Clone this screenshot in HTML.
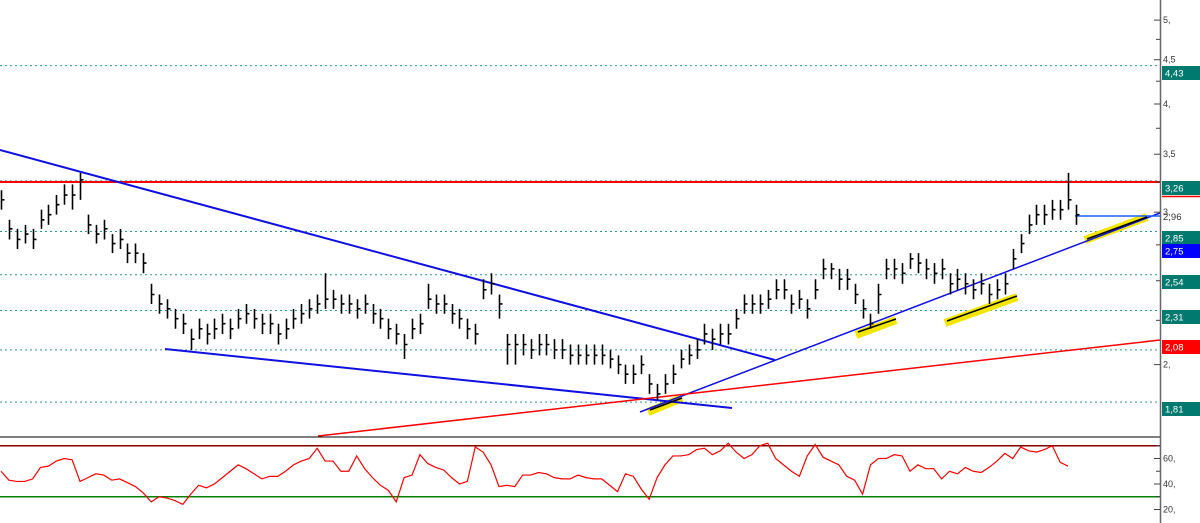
<!DOCTYPE html>
<html><head><meta charset="utf-8"><style>
body{margin:0;background:#fff;}
svg{display:block;font-family:"Liberation Sans",sans-serif;}
</style></head><body>
<svg id="chart" width="1200" height="523" viewBox="0 0 1200 523" xmlns="http://www.w3.org/2000/svg">
<g id="grid"></g>
<g id="draw"></g>
<g id="bars"></g>
<g id="rsi"></g>
<g id="axis"></g>
</svg>
<script>
const highs=[3.18,2.94,2.87,2.90,2.87,3.02,3.06,3.14,3.23,3.23,3.33,2.98,2.90,2.94,2.83,2.87,2.76,2.76,2.69,2.48,2.41,2.38,2.32,2.29,2.20,2.26,2.23,2.26,2.29,2.26,2.32,2.35,2.32,2.29,2.29,2.23,2.26,2.32,2.35,2.38,2.41,2.55,2.44,2.41,2.41,2.38,2.41,2.35,2.32,2.26,2.23,2.17,2.26,2.29,2.48,2.41,2.41,2.35,2.32,2.26,2.23,2.51,2.55,2.41,2.17,2.17,2.17,2.14,2.17,2.17,2.14,2.14,2.11,2.11,2.11,2.11,2.11,2.08,2.05,2.00,2.00,2.05,1.95,1.90,1.95,2.00,2.08,2.11,2.14,2.23,2.20,2.23,2.23,2.32,2.41,2.41,2.41,2.44,2.51,2.51,2.41,2.44,2.38,2.51,2.65,2.62,2.58,2.58,2.48,2.38,2.29,2.48,2.65,2.65,2.62,2.69,2.69,2.65,2.62,2.65,2.55,2.58,2.55,2.51,2.55,2.48,2.51,2.55,2.72,2.83,2.98,3.06,3.06,3.10,3.10,3.33,3.06];
const lows=[3.02,2.79,2.72,2.76,2.72,2.87,2.90,2.98,3.06,3.02,3.10,2.83,2.76,2.79,2.69,2.72,2.62,2.62,2.55,2.35,2.29,2.26,2.20,2.17,2.08,2.14,2.11,2.14,2.17,2.14,2.20,2.23,2.20,2.17,2.17,2.11,2.14,2.20,2.23,2.26,2.29,2.32,2.32,2.29,2.29,2.26,2.29,2.23,2.20,2.14,2.11,2.03,2.14,2.17,2.32,2.29,2.29,2.23,2.20,2.14,2.11,2.38,2.41,2.26,2.00,2.00,2.05,2.03,2.05,2.05,2.03,2.03,2.00,2.00,2.00,2.00,2.00,1.98,1.95,1.90,1.90,1.95,1.85,1.82,1.85,1.90,1.98,2.00,2.03,2.11,2.08,2.11,2.11,2.20,2.29,2.29,2.29,2.32,2.38,2.38,2.29,2.32,2.26,2.38,2.51,2.51,2.44,2.44,2.35,2.26,2.20,2.29,2.51,2.51,2.48,2.58,2.55,2.51,2.48,2.51,2.41,2.44,2.41,2.38,2.41,2.35,2.38,2.41,2.58,2.69,2.83,2.90,2.90,2.94,2.94,3.02,2.90];
const closes=[3.10,2.87,2.79,2.83,2.79,2.94,2.98,3.06,3.14,3.14,3.27,2.90,2.83,2.87,2.76,2.79,2.69,2.69,2.62,2.41,2.35,2.32,2.26,2.23,2.14,2.20,2.17,2.20,2.23,2.20,2.26,2.29,2.26,2.23,2.23,2.17,2.20,2.26,2.29,2.32,2.35,2.38,2.38,2.35,2.35,2.32,2.35,2.29,2.26,2.20,2.17,2.11,2.20,2.23,2.38,2.35,2.35,2.29,2.26,2.20,2.17,2.44,2.48,2.35,2.11,2.11,2.11,2.08,2.11,2.11,2.08,2.08,2.05,2.05,2.05,2.05,2.05,2.03,2.00,1.95,1.95,2.00,1.90,1.85,1.90,1.95,2.03,2.05,2.08,2.17,2.14,2.17,2.17,2.26,2.35,2.35,2.35,2.38,2.44,2.44,2.35,2.38,2.32,2.44,2.58,2.58,2.51,2.51,2.41,2.32,2.23,2.41,2.58,2.58,2.55,2.65,2.62,2.58,2.55,2.58,2.48,2.51,2.48,2.44,2.48,2.41,2.44,2.48,2.65,2.76,2.90,2.98,2.98,3.02,3.02,3.10,2.98];
const rsiValues=[50,43,42,42,44,53,54,58,60,59,42,45,48,47,43,44,41,38,33,26,30,29,27,24,32,39,37,40,45,50,55,52,48,44,46,46,50,55,58,60,68,58,58,50,50,62,52,45,39,35,26,45,47,63,56,53,51,45,40,42,69,65,55,38,39,38,47,47,49,48,45,44,44,47,45,44,44,39,34,48,46,36,28,45,55,62,62,63,67,68,63,66,72,65,60,63,70,72,60,55,50,46,62,71,61,58,55,46,43,32,55,60,60,63,62,50,55,52,52,44,50,48,53,50,49,53,58,64,60,69,66,65,67,70,57,54];
const axisTicks=[5,4.5,4,3.5,3,2];
const axisTickLabels=["5,","4,5","4,","3,5","3,","2,"];
const levelValues=[4.43,3.26,2.85,2.54,2.31,2.08,1.81];
const levelLabels=["4,43","3,26","2,85","2,54","2,31","2,08","1,81"];
const rsiTicks=[60,40,20];
const rsiTickLabels=["60,","40,","20,"];

const NS="http://www.w3.org/2000/svg";
const y=v=>104-376*Math.log(v/4);
const ry=v=>535-1.275*v;
const step=1075/(closes.length-1);
const bx=i=>1+i*step;
function mk(tag,attrs,parent){const e=document.createElementNS(NS,tag);for(const k in attrs)e.setAttribute(k,attrs[k]);parent.appendChild(e);return e;}
const grid=document.getElementById('grid'),draw=document.getElementById('draw'),bars=document.getElementById('bars'),rsi=document.getElementById('rsi'),axis=document.getElementById('axis');

levelValues.forEach((v,i)=>{
  const l=mk('line',{x1:0,x2:1160,y1:y(v),y2:y(v),stroke:'#2a9a92','stroke-width':1,'stroke-dasharray':'2,3'},grid);
  
  
});
function seg(x1,y1,x2,y2,c,w,name){const l=mk('line',{x1,y1,x2,y2,stroke:c,'stroke-width':w},draw);
  
  return l;}
seg(648,412,682,398,'#f2e600',8,'highlight');
seg(856,335,896,320,'#f2e600',8,'highlight');
seg(945,323,1017,297,'#f2e600',8,'highlight');
seg(1085,240,1147,217,'#f2e600',8,'highlight');
seg(0,182,1160,182,'#ff0000',2,'resistance-line');
seg(0,150,775,360,'#1010e0',2,'descending-trendline');
seg(165,349,732,408,'#1010e0',2,'lower-trendline');
seg(640,412,1160,213,'#1010e0',1.5,'rising-trendline');
seg(318,436,1160,340,'#ff0000',1.5,'red-trendline');
seg(1075,216,1160,216,'#1e5eff',1.5,'last-price-line');
seg(650,410,682,398,'#000',1.5,'touch-line');
seg(858,332,896,319,'#000',1.5,'touch-line');
seg(947,321,1017,296,'#000',1.5,'touch-line');
seg(1087,239,1147,217,'#000',1.5,'touch-line');

closes.forEach((c,i)=>{
  const x=Math.round(bx(i))+0.5;
  const b=mk('path',{d:`M${x} ${y(highs[i])}V${y(lows[i])}M${x} ${y(c)}h3`,stroke:'#000','stroke-width':1.6,fill:'none'},bars);
  
  
});

const sep=mk('line',{x1:0,x2:1160,y1:437,y2:437,stroke:'#000','stroke-width':1},rsi);


const ob=mk('line',{x1:0,x2:1160,y1:ry(70),y2:ry(70),stroke:'#800000','stroke-width':1.5},rsi);


const os=mk('line',{x1:0,x2:1160,y1:ry(30),y2:ry(30),stroke:'#008000','stroke-width':1.5},rsi);


const rl=mk('polyline',{points:rsiValues.map((v,i)=>bx(i)+','+ry(v)).join(' '),fill:'none',stroke:'#ff0000','stroke-width':1.2},rsi);



const al=mk('line',{x1:1160.5,x2:1160.5,y1:0,y2:523,stroke:'#666','stroke-width':1.5},axis);


axisTicks.forEach((v,i)=>{
  mk('line',{x1:1154,x2:1160,y1:y(v),y2:y(v),stroke:'#444'},axis);
  const t=mk('text',{x:1163,y:y(v)+3,'font-size':9,fill:'#333'},axis);
  t.textContent=axisTickLabels[i];
  
  
});
[4.75,4.25,3.75,3.25,2.75,2.5,2.25].forEach(v=>mk('line',{x1:1156,x2:1160,y1:y(v),y2:y(v),stroke:'#444'},axis));
levelValues.forEach((v,i)=>{
  const top=Math.round(y(v))+ (v===2.08?-10:0);
  const r=mk('rect',{x:1162,y:top,width:38,height:14,fill:v===2.08?'#ff0000':'#007a6e'},axis);
  
  
  const t=mk('text',{x:1165,y:top+10.5,'font-size':9.5,fill:'#fff'},axis);
  t.textContent=levelLabels[i];
  
  
});
mk('line',{x1:1162,x2:1200,y1:196.5,y2:196.5,stroke:'#ff0000','stroke-width':1.5},axis);
const br=mk('rect',{x:1162,y:244,width:38,height:14,fill:'#0000ff'},axis);


const bt=mk('text',{x:1165,y:254.5,'font-size':9.5,fill:'#fff'},axis);
bt.textContent='2,75';


const lp=mk('text',{x:1163,y:220,'font-size':9.5,fill:'#333'},axis);
lp.textContent='2,96';


rsiTicks.forEach((v,i)=>{
  mk('line',{x1:1154,x2:1160,y1:ry(v),y2:ry(v),stroke:'#444'},axis);
  mk('line',{x1:1156,x2:1160,y1:ry(v+10),y2:ry(v+10),stroke:'#444'},axis);
  const t=mk('text',{x:1163,y:ry(v)+3,'font-size':9,fill:'#333'},axis);
  t.textContent=rsiTickLabels[i];
  
  
});
</script>
</body></html>
